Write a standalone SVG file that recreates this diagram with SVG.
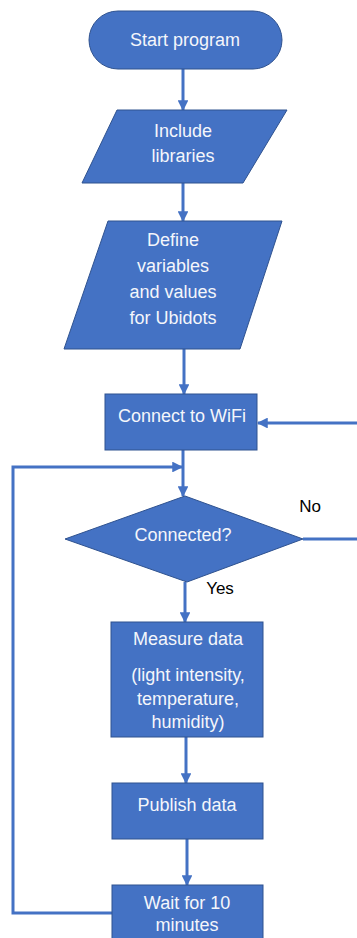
<svg xmlns="http://www.w3.org/2000/svg" width="357" height="938" viewBox="0 0 357 938">
  <style>
    .shape { fill: #4472C4; stroke: #2F528F; stroke-width: 1; }
    .label { fill: #F4F6FB; font-family: "Liberation Sans", Arial, sans-serif; font-size: 18px; text-anchor: middle; }
    .note { fill: #000000; font-family: "Liberation Sans", Arial, sans-serif; font-size: 17px; text-anchor: middle; }
    .conn { fill: none; stroke: #4472C4; stroke-width: 3; }
  </style>
  <defs>
    <marker id="arrow" viewBox="0 0 10 10" refX="9" refY="5" markerWidth="3.6" markerHeight="3.6" orient="auto" markerUnits="strokeWidth">
      <path d="M0,0 L10,5 L0,10 Z" fill="#4472C4"/>
    </marker>
  </defs>

  <!-- connectors -->
  <g id="connectors">
    <path class="conn" d="M183,69 L183,110" marker-end="url(#arrow)"/>
    <path class="conn" d="M183,183 L183,221" marker-end="url(#arrow)"/>
    <path class="conn" d="M184,349 L184,394" marker-end="url(#arrow)"/>
    <path class="conn" d="M183,450 L183,496" marker-end="url(#arrow)"/>
    <path class="conn" d="M112,913 L13,913 L13,467 L182,467" marker-end="url(#arrow)"/>
    <path class="conn" d="M303,539 L357,539"/>
    <path class="conn" d="M357,423 L258,423" marker-end="url(#arrow)"/>
    <path class="conn" d="M185,582 L185,622" marker-end="url(#arrow)"/>
    <path class="conn" d="M186,737 L186,783" marker-end="url(#arrow)"/>
    <path class="conn" d="M187,839 L187,885" marker-end="url(#arrow)"/>
  </g>

  <g id="start">
    <rect class="shape" x="89" y="11" width="193" height="58" rx="29" ry="29"/>
    <text class="label" x="185" y="46">Start program</text>
  </g>

  <g id="include">
    <polygon class="shape" points="117,110 287,110 243,183 82,183"/>
    <text class="label" x="183" y="137">Include</text>
    <text class="label" x="183" y="162">libraries</text>
  </g>

  <g id="define">
    <polygon class="shape" points="108,221 282,221 240,349 64,349"/>
    <text class="label" x="173" y="246">Define</text>
    <text class="label" x="173" y="272">variables</text>
    <text class="label" x="173" y="298">and values</text>
    <text class="label" x="173" y="324">for Ubidots</text>
  </g>

  <g id="connect">
    <rect class="shape" x="105" y="394" width="152" height="56"/>
    <text class="label" x="182" y="422">Connect to WiFi</text>
  </g>

  <g id="decision">
    <polygon class="shape" points="185,496 303,539 187,582 65,539"/>
    <text class="label" x="183" y="541">Connected?</text>
    <text class="note" x="310" y="512">No</text>
    <text class="note" x="220" y="594">Yes</text>
  </g>

  <g id="measure">
    <rect class="shape" x="111" y="622" width="152" height="115"/>
    <text class="label" x="188" y="645">Measure data</text>
    <text class="label" x="188" y="681">(light intensity,</text>
    <text class="label" x="188" y="705">temperature,</text>
    <text class="label" x="188" y="728">humidity)</text>
  </g>

  <g id="publish">
    <rect class="shape" x="112" y="783" width="151" height="56"/>
    <text class="label" x="187" y="811">Publish data</text>
  </g>

  <g id="wait">
    <rect class="shape" x="112" y="885" width="151" height="60"/>
    <text class="label" x="187" y="909">Wait for 10</text>
    <text class="label" x="187" y="931">minutes</text>
  </g>
</svg>
